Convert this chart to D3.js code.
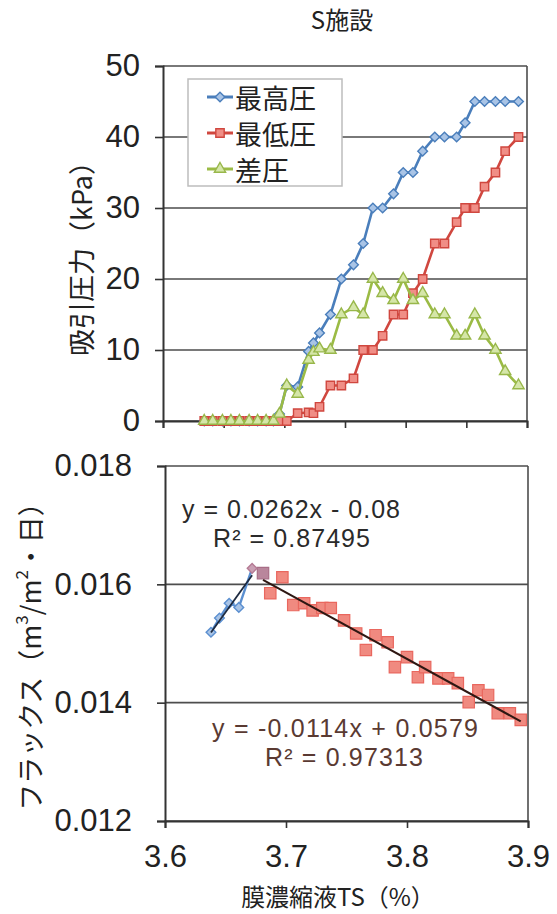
<!DOCTYPE html>
<html>
<head>
<meta charset="utf-8">
<script src="https://cdn.jsdelivr.net/npm/d3@7"></script>
<style>
  body { margin: 0; background: #fff; }
  svg { display: block; font-family: "Liberation Sans", Arial, "Noto Sans CJK JP", sans-serif; }
  .jp { font-family: "Noto Sans CJK JP", sans-serif; }
</style>
</head>
<body>
<svg id="chart" width="557" height="914"></svg>
<script>
// ---- top panel: suction pressure (kPa) vs TS
var tsTop = [3.634, 3.641, 3.649, 3.656, 3.663, 3.671, 3.678, 3.685, 3.691, 3.696,
  3.702, 3.711, 3.720, 3.724, 3.729, 3.738, 3.747, 3.757, 3.765, 3.773,
  3.781, 3.790, 3.798, 3.806, 3.814, 3.824, 3.832, 3.842, 3.849, 3.857,
  3.865, 3.874, 3.882, 3.893];
var maxP = [0, 0, 0, 0, 0, 0, 0, 0, 0, 1,
  5, 4.8, 9.8, 11, 12.4, 15, 20, 22, 25, 30,
  30, 32, 35, 35, 38, 40, 40, 40, 42, 45,
  45, 45, 45, 45];
var minP = [0, 0, 0, 0, 0, 0, 0, 0, 0, 0,
  0, 1.1, 1.2, 1.1, 2, 5, 5, 6, 10, 10,
  12, 15, 15, 18, 20, 25, 25, 28, 30, 30,
  33, 35, 38, 40];
var diffP = [0, 0, 0, 0, 0, 0, 0, 0, 0, 1,
  5, 3.8, 8.6, 9.7, 10.2, 10, 15, 16, 15, 20,
  18, 17, 20, 17, 18, 15, 15, 12, 12, 15,
  12, 10, 7, 5];
var seriesNames = ["最高圧", "最低圧", "差圧"];
var yTicksTop = [0, 10, 20, 30, 40, 50];
var xTicksTop = [3.6, 3.65, 3.7, 3.75, 3.8, 3.85, 3.9];

// ---- bottom panel: flux vs TS
var tsRise = [3.638, 3.645, 3.653, 3.661, 3.672];
var fluxRise = [0.01519, 0.01543, 0.01568, 0.01561, 0.01627];
var tsFall = [3.681, 3.687, 3.697, 3.706, 3.715, 3.722, 3.730, 3.737, 3.748, 3.758,
  3.766, 3.774, 3.784, 3.790, 3.800, 3.809, 3.815, 3.826, 3.834, 3.842,
  3.851, 3.859, 3.867, 3.875, 3.885, 3.894];
var fluxFall = [0.01619, 0.01585, 0.01612, 0.01565, 0.01568, 0.01556, 0.01560, 0.01560, 0.01539, 0.01517,
  0.01489, 0.01514, 0.01502, 0.01460, 0.01477, 0.01443, 0.01460, 0.01441, 0.01441, 0.01433,
  0.01401, 0.01421, 0.01413, 0.01382, 0.01382, 0.01371];
var yTicksBot = [0.012, 0.014, 0.016, 0.018];
var xTicksBot = [3.6, 3.7, 3.8, 3.9];
var eqRise = ["y = 0.0262x - 0.08", "R² = 0.87495"];
var eqFall = ["y = -0.0114x + 0.0579", "R² = 0.97313"];

var svg = d3.select("#chart");
var gridColor = "#4d4d4d";

// title
svg.append("text").attr("class", "jp")
  .attr("x", 342).attr("y", 29)
  .attr("text-anchor", "middle")
  .attr("font-size", 24)
  .attr("fill", "#222")
  .text("S施設");

// ================= top chart =================
var xTop = d3.scaleLinear().domain([3.6, 3.9]).range([163, 527]);
var yTop = d3.scaleLinear().domain([0, 50]).range([421, 66]);

var gTop = svg.append("g");

gTop.selectAll("line.grid")
  .data(yTicksTop)
  .enter().append("line")
  .attr("class", "grid")
  .attr("x1", 163).attr("x2", 527)
  .attr("y1", function(d) { return yTop(d); })
  .attr("y2", function(d) { return yTop(d); })
  .attr("stroke", gridColor).attr("stroke-width", 1.6);

gTop.append("line")
  .attr("x1", 527).attr("x2", 527)
  .attr("y1", yTop(50)).attr("y2", yTop(0))
  .attr("stroke", gridColor).attr("stroke-width", 1.6);

var axTopY = gTop.append("g")
  .attr("transform", "translate(163,0)")
  .call(d3.axisLeft(yTop).tickValues(yTicksTop).tickSize(8).tickPadding(15).tickFormat(d3.format("d")));
var axTopX = gTop.append("g")
  .attr("transform", "translate(0,421)")
  .call(d3.axisBottom(xTop).tickValues(xTicksTop).tickSize(7).tickFormat(""));

[axTopY, axTopX].forEach(function(ax) {
  ax.select(".domain").attr("stroke", "#333").attr("stroke-width", 2);
  ax.selectAll(".tick line").attr("stroke", "#333").attr("stroke-width", 1.6);
  ax.selectAll(".tick text").attr("font-size", 31).attr("fill", "#222")
    .attr("font-family", "Liberation Sans, Arial, sans-serif");
});

var topSeries = [
  { name: seriesNames[0], vals: maxP, stroke: "#4a7ebb", fill: "#a9c4e6", mstroke: "#4a7ebb", shape: d3.symbolDiamond2, size: 60 },
  { name: seriesNames[1], vals: minP, stroke: "#d0473f", fill: "#f08e86", mstroke: "#d0473f", shape: d3.symbolSquare, size: 70 },
  { name: seriesNames[2], vals: diffP, stroke: "#9bbb45", fill: "#d5e6a8", mstroke: "#98b74a", shape: d3.symbolTriangle, size: 55 }
];

var lineTop = d3.line()
  .x(function(d) { return xTop(d[0]); })
  .y(function(d) { return yTop(d[1]); });

topSeries.forEach(function(s, si) {
  var pts = tsTop.map(function(t, i) { return [t, s.vals[i]]; });
  gTop.append("path")
    .datum(pts)
    .attr("fill", "none")
    .attr("stroke", s.stroke)
    .attr("stroke-width", 2.6)
    .attr("d", lineTop);
  gTop.selectAll("path.m" + si)
    .data(pts)
    .enter().append("path")
    .attr("class", "m" + si)
    .attr("transform", function(d) { return "translate(" + xTop(d[0]) + "," + yTop(d[1]) + ")"; })
    .attr("d", d3.symbol().type(s.shape).size(s.size))
    .attr("fill", s.fill)
    .attr("stroke", s.mstroke)
    .attr("stroke-width", 1.4);
});

// legend
var lg = gTop.append("g");
lg.append("rect")
  .attr("x", 188).attr("y", 79).attr("width", 154).attr("height", 107)
  .attr("fill", "#fff").attr("stroke", "#bdbdbd").attr("stroke-width", 1.5);
var legendRows = [97, 133, 169];
topSeries.forEach(function(s, i) {
  var cy = legendRows[i];
  lg.append("line")
    .attr("x1", 207).attr("x2", 233).attr("y1", cy).attr("y2", cy)
    .attr("stroke", s.stroke).attr("stroke-width", 3);
  lg.append("path")
    .attr("transform", "translate(220," + cy + ")")
    .attr("d", d3.symbol().type(s.shape).size(s.size))
    .attr("fill", s.fill).attr("stroke", s.mstroke).attr("stroke-width", 1.4);
  lg.append("text").attr("class", "jp")
    .attr("x", 235).attr("y", cy)
    .attr("dominant-baseline", "central")
    .attr("font-size", 27).attr("fill", "#222")
    .text(s.name);
});

// y title
svg.append("text").attr("class", "jp")
  .attr("transform", "translate(80,252) rotate(-90)")
  .attr("text-anchor", "middle")
  .attr("dominant-baseline", "central")
  .attr("font-size", 27).attr("fill", "#222")
  .text("吸引圧力（kPa）");

// ================= bottom chart =================
var xBot = d3.scaleLinear().domain([3.6, 3.9]).range([165, 528]);
var yBot = d3.scaleLinear().domain([0.012, 0.018]).range([821, 466]);
var gBot = svg.append("g");

gBot.selectAll("line.grid")
  .data(yTicksBot)
  .enter().append("line")
  .attr("class", "grid")
  .attr("x1", 165).attr("x2", 528)
  .attr("y1", function(d) { return yBot(d); })
  .attr("y2", function(d) { return yBot(d); })
  .attr("stroke", gridColor).attr("stroke-width", 1.6);
gBot.append("line")
  .attr("x1", 528).attr("x2", 528)
  .attr("y1", yBot(0.018)).attr("y2", yBot(0.012))
  .attr("stroke", gridColor).attr("stroke-width", 1.6);

var axBotY = gBot.append("g")
  .attr("transform", "translate(165,0)")
  .call(d3.axisLeft(yBot).tickValues(yTicksBot).tickSize(8).tickPadding(25).tickFormat(d3.format(".3f")));
var axBotX = gBot.append("g")
  .attr("transform", "translate(0,821)")
  .call(d3.axisBottom(xBot).tickValues(xTicksBot).tickSize(7).tickPadding(17).tickFormat(d3.format(".1f")));

[axBotY, axBotX].forEach(function(ax) {
  ax.select(".domain").attr("stroke", "#333").attr("stroke-width", 2);
  ax.selectAll(".tick line").attr("stroke", "#333").attr("stroke-width", 1.6);
  ax.selectAll(".tick text").attr("font-size", 31).attr("fill", "#222")
    .attr("font-family", "Liberation Sans, Arial, sans-serif");
});

// least-squares trend line from the points
function fit(xs, ys) {
  var mx = d3.mean(xs), my = d3.mean(ys);
  var sxy = d3.sum(xs, function(x, i) { return (x - mx) * (ys[i] - my); });
  var sxx = d3.sum(xs, function(x) { return (x - mx) * (x - mx); });
  var b = sxy / sxx;
  return { b: b, a: my - b * mx };
}

var riseFit = fit(tsRise, fluxRise);
var fallFit = fit(tsFall, fluxFall);
var risePts = tsRise.map(function(t, i) { return [t, fluxRise[i]]; });
var fallPts = tsFall.map(function(t, i) { return [t, fluxFall[i]]; });

var lineBot = d3.line()
  .x(function(d) { return xBot(d[0]); })
  .y(function(d) { return yBot(d[1]); });

// rising series line
gBot.append("path").datum(risePts)
  .attr("fill", "none").attr("stroke", "#5b8fd0").attr("stroke-width", 2.4)
  .attr("d", lineBot);

// falling markers
gBot.selectAll("path.fall")
  .data(fallPts)
  .enter().append("path")
  .attr("class", "fall")
  .attr("transform", function(d) { return "translate(" + xBot(d[0]) + "," + yBot(d[1]) + ")"; })
  .attr("d", d3.symbol().type(d3.symbolSquare).size(130))
  .attr("fill", function(d, i) { return i === 0 ? "#b9869c" : "#f08a80"; })
  .attr("stroke", function(d, i) { return i === 0 ? "#a86d86" : "#e9675e"; })
  .attr("stroke-width", 1.2);

// rising markers
gBot.selectAll("path.rise")
  .data(risePts)
  .enter().append("path")
  .attr("class", "rise")
  .attr("transform", function(d) { return "translate(" + xBot(d[0]) + "," + yBot(d[1]) + ")"; })
  .attr("d", d3.symbol().type(d3.symbolDiamond2).size(60))
  .attr("fill", function(d, i) { return i === risePts.length - 1 ? "#c9a0b4" : "#a9c4e6"; })
  .attr("stroke", function(d, i) { return i === risePts.length - 1 ? "#b57a94" : "#5b8fd0"; })
  .attr("stroke-width", 1.4);

// trend lines
var riseExt = d3.extent(tsRise), fallExt = d3.extent(tsFall);
gBot.append("path")
  .datum(riseExt.map(function(t) { return [t, riseFit.a + riseFit.b * t]; }))
  .attr("fill", "none").attr("stroke", "#1d2a40").attr("stroke-width", 1.8)
  .attr("d", lineBot);
gBot.append("path")
  .datum(fallExt.map(function(t) { return [t, fallFit.a + fallFit.b * t]; }))
  .attr("fill", "none").attr("stroke", "#2e1712").attr("stroke-width", 2)
  .attr("d", lineBot);

// equation labels
gBot.append("text").attr("x", 182).attr("y", 518)
  .attr("font-size", 25).attr("fill", "#2a2a2a")
  .attr("textLength", 218).attr("lengthAdjust", "spacing")
  .text(eqRise[0]);
gBot.append("text").attr("x", 213).attr("y", 547)
  .attr("font-size", 25).attr("fill", "#2a2a2a")
  .attr("textLength", 157).attr("lengthAdjust", "spacing")
  .text(eqRise[1]);
gBot.append("text").attr("x", 212).attr("y", 737)
  .attr("font-size", 25).attr("fill", "#5a3a32")
  .attr("textLength", 266).attr("lengthAdjust", "spacing")
  .text(eqFall[0]);
gBot.append("text").attr("x", 265).attr("y", 766)
  .attr("font-size", 25).attr("fill", "#5a3a32")
  .attr("textLength", 158).attr("lengthAdjust", "spacing")
  .text(eqFall[1]);

// y title with superscripts
var yt = svg.append("text").attr("class", "jp")
  .attr("transform", "translate(29,650) rotate(-90)")
  .attr("text-anchor", "middle")
  .attr("dominant-baseline", "central")
  .attr("font-size", 27).attr("fill", "#222");
yt.append("tspan").text("フラックス（m");
yt.append("tspan").attr("dy", -9).attr("font-size", 17).text("3");
yt.append("tspan").attr("dy", 9).text("/m");
yt.append("tspan").attr("dy", -9).attr("font-size", 17).text("2");
yt.append("tspan").attr("dy", 9).text("・日）");

// x title
svg.append("text").attr("class", "jp")
  .attr("x", 338).attr("y", 895)
  .attr("text-anchor", "middle")
  .attr("dominant-baseline", "central")
  .attr("font-size", 24).attr("fill", "#222")
  .text("膜濃縮液TS（%）");
</script>
</body>
</html>
